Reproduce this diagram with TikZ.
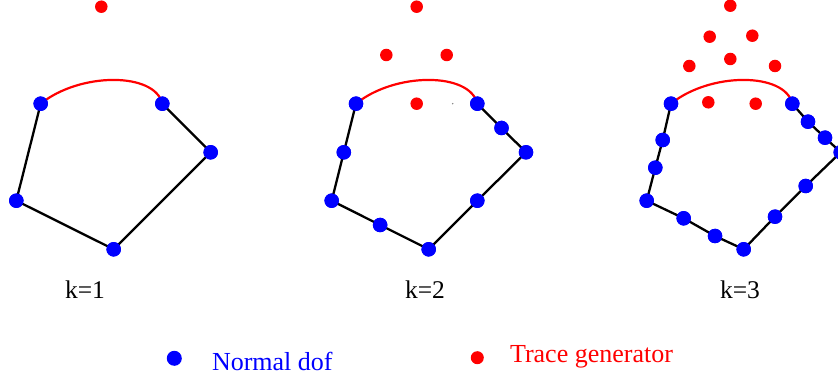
\documentclass[tikz,border=0pt]{standalone}
\usepackage{fontspec}
\setmainfont{Liberation Serif}
\begin{document}
\begin{tikzpicture}[x=1pt,y=-1pt,
  dof/.style={circle,fill=blue,inner sep=0pt,minimum size=14.5pt},
  trc/.style={circle,fill=red,inner sep=0pt,minimum size=12.5pt},
  edge/.style={black,line width=2.3pt},
  face/.style={red,line width=2.2pt},
  klabel/.style={anchor=base,font=\fontsize{25.5}{30}\selectfont},
  legtext/.style={anchor=base west,font=\fontsize{26}{31}\selectfont}]
\useasboundingbox (0,0) rectangle (838,379);
% ---------- panel 1 (k=1)
\node[dof] (a1) at (40.7,103.7) {};
\node[dof] (b1) at (162.3,103.7) {};
\node[dof] (c1) at (210.7,152.3) {};
\node[dof] (d1) at (113.7,249.3) {};
\node[dof] (e1) at (16.3,200.7) {};
\draw[edge] (b1.center) -- (c1.center) -- (d1.center) -- (e1.center) -- (a1.center);
\draw[face] (a1.center) .. controls (80,72) and (155,72) .. (b1.center);
\foreach \n in {a1,b1,c1,d1,e1} \node[dof] at (\n) {};
\node[trc] (r1) at (101.3,6.7) {};
\node[klabel] (k1) at (85,298.3) {k=1};
% ---------- panel 2 (k=2)
\node[dof] (a2) at (356,103.7) {};
\node[dof] (b2) at (477.3,103.7) {};
\node[dof] (bc2) at (501.5,128) {};
\node[dof] (c2) at (526,152.3) {};
\node[dof] (cd2) at (477.3,200.7) {};
\node[dof] (d2) at (428.7,249.3) {};
\node[dof] (de2) at (380.1,225) {};
\node[dof] (e2) at (331.7,200.7) {};
\node[dof] (ea2) at (343.8,152.3) {};
\draw[edge] (b2.center) -- (bc2.center) -- (c2.center) -- (cd2.center) -- (d2.center) -- (de2.center) -- (e2.center) -- (ea2.center) -- (a2.center);
\draw[face] (a2.center) .. controls (395,72) and (470,72) .. (b2.center);
\foreach \n in {a2,b2,bc2,c2,cd2,d2,de2,e2,ea2} \node[dof] at (\n) {};
\node[trc] (r2a) at (416.7,6.7) {};
\node[trc] (r2b) at (386.3,55) {};
\node[trc] (r2c) at (446.7,55) {};
\node[trc] (r2d) at (416.7,103.7) {};
\fill[gray] (452.7,103.7) circle (0.8);
\node[klabel] (k2) at (425,298.3) {k=2};
% ---------- panel 3 (k=3)
\node[dof] (a3) at (671,103.7) {};
\node[dof] (ea3a) at (662.7,140) {};
\node[dof] (ea3b) at (655.3,167.7) {};
\node[dof] (e3) at (646.7,200.7) {};
\node[dof] (de3a) at (683.7,218.3) {};
\node[dof] (de3b) at (715,236) {};
\node[dof] (d3) at (743.7,249.3) {};
\node[dof] (cd3a) at (775,216.7) {};
\node[dof] (cd3b) at (805.7,186) {};
\node[dof] (c3) at (840.7,152.3) {};
\node[dof] (bc3a) at (825,137.7) {};
\node[dof] (bc3b) at (808,121.7) {};
\node[dof] (b3) at (792.3,103.7) {};
\draw[edge] (b3.center) -- (bc3b.center) -- (bc3a.center) -- (c3.center) -- (cd3b.center) -- (cd3a.center) -- (d3.center) -- (de3b.center) -- (de3a.center) -- (e3.center) -- (ea3b.center) -- (ea3a.center) -- (a3.center);
\draw[face] (a3.center) .. controls (710,72) and (785,72) .. (b3.center);
\foreach \n in {a3,ea3a,ea3b,e3,de3a,de3b,d3,cd3a,cd3b,c3,bc3a,bc3b,b3} \node[dof] at (\n) {};
\node[trc] (r3a) at (730.3,5.7) {};
\node[trc] (r3b) at (709.7,36.7) {};
\node[trc] (r3c) at (752.3,35.7) {};
\node[trc] (r3d) at (730.3,59) {};
\node[trc] (r3e) at (689.3,66) {};
\node[trc] (r3f) at (775,66) {};
\node[trc] (r3g) at (708.3,102.3) {};
\node[trc] (r3h) at (755.7,103.7) {};
\node[klabel] (k3) at (740,298.3) {k=3};
% ---------- legend
\node[dof,minimum size=15pt] (lb) at (174.3,358.3) {};
\node[legtext,text=blue] (lbt) at (208.5,370.5) {Normal dof};
\node[trc,minimum size=13pt] (lr) at (477.3,357.7) {};
\node[legtext,text=red] (lrt) at (506.5,362.7) {Trace generator};
\end{tikzpicture}
\end{document}
